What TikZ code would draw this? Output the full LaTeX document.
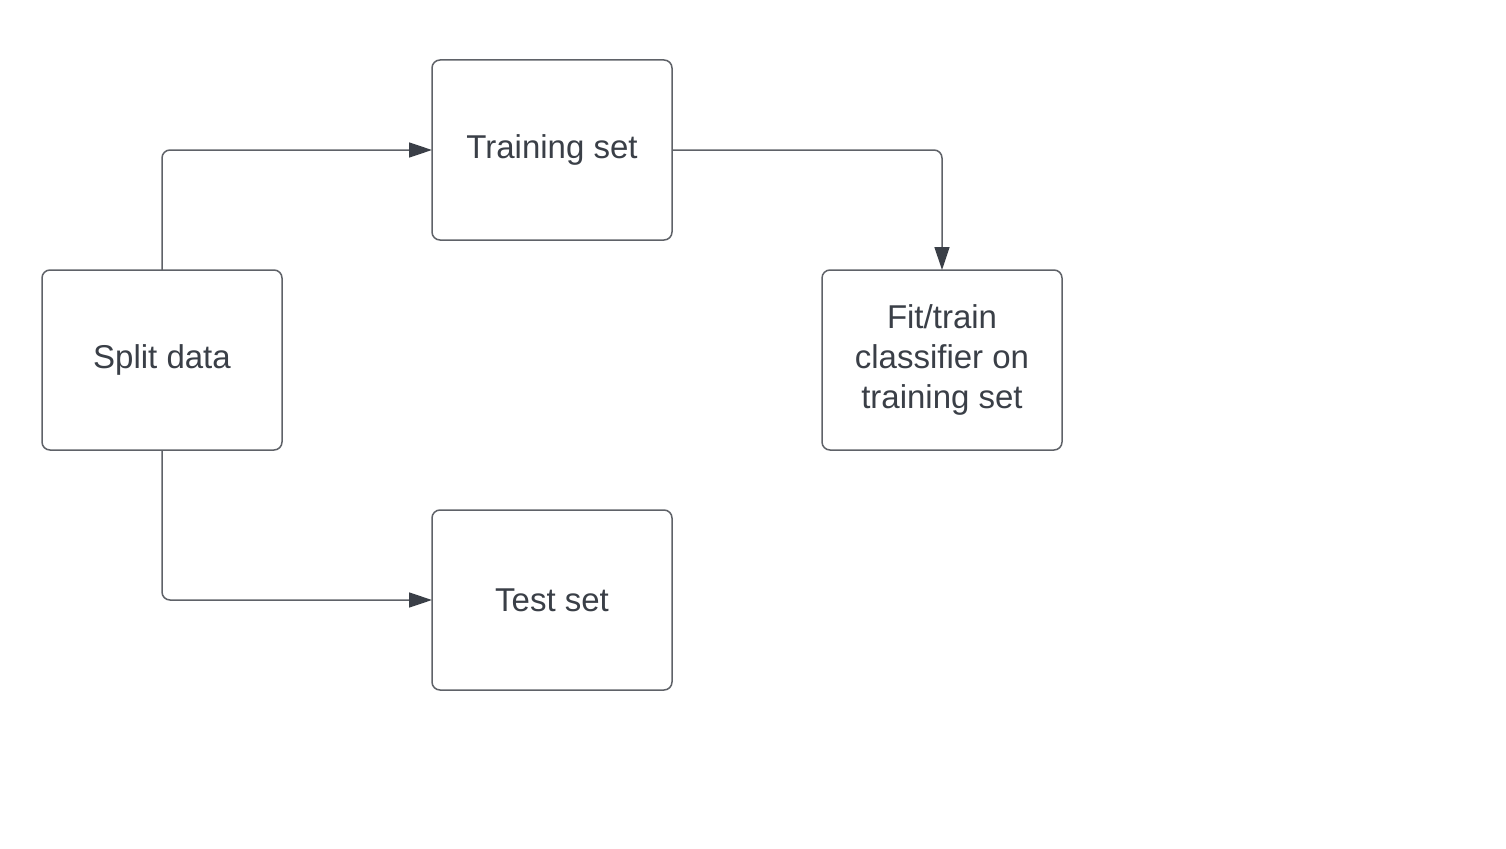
\documentclass[tikz,border=0pt]{standalone}
\usepackage{fontspec}
\setmainfont{Liberation Sans}
\usetikzlibrary{positioning, arrows.meta}
\definecolor{boxline}{HTML}{5F6268}
\definecolor{textdark}{HTML}{3A3F47}

\begin{document}
\begin{tikzpicture}[x=1pt,y=1pt,node distance=30pt and 150pt,
		>={Triangle[length=23pt,width=15pt,fill=textdark,color=textdark]},
		line width=1.5pt,rounded corners=8pt]
		\tikzstyle{step box}=[draw=boxline,rectangle,rounded corners=8pt,
			minimum width=240pt,minimum height=180pt,inner sep=0pt,outer sep=0pt,
			text=textdark,align=center,font=\fontsize{33}{40}\selectfont]
		\useasboundingbox (0,0) rectangle (1506,-848);
		
		\node[step box] (split) at (162,-360) {Split data};
		\node[step box] (train) [above right=of split] {Training set};
		\node[step box] (test)  [below right=60pt and 150pt of split] {Test set};
		\node[step box] (fit)   [below right=of train] {Fit/train\\classifier on\\training set};
		
		\draw[->,draw=boxline] (split.north) |- (train.west);
		\draw[->,draw=boxline] (split.south) |- (test.west);
		\draw[->,draw=boxline] (train.east) -| (fit.north);
		\end{tikzpicture}
\end{document}
